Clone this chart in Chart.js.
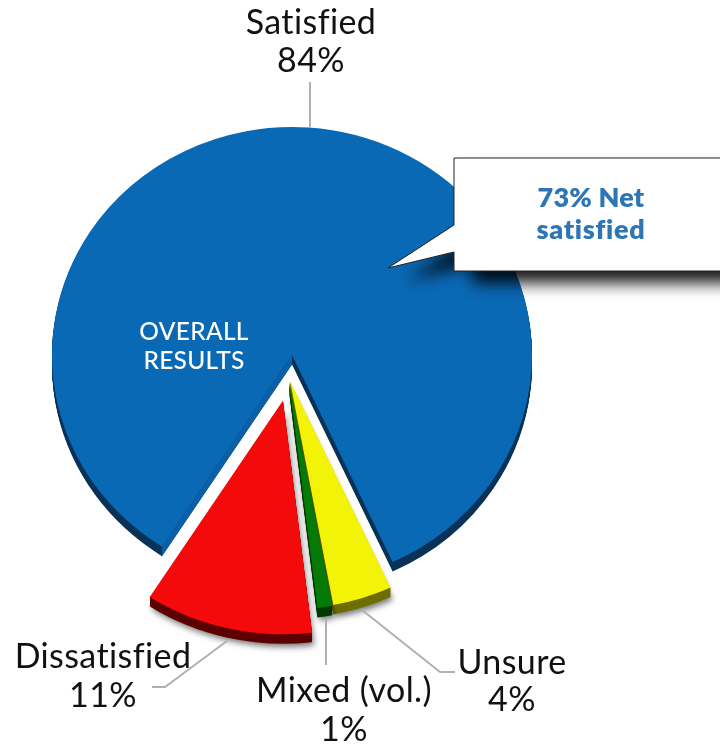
<!DOCTYPE html>
<html>
<head>
<meta charset="utf-8">
<style>
  html, body { margin: 0; padding: 0; background: #fff; }
  canvas { display: block; }
</style>
<script src="https://cdn.jsdelivr.net/npm/chart.js@4"></script>
</head>
<body>
<canvas id="pie" width="720" height="744"></canvas>
<script>
'use strict';

const categories = ['Satisfied', 'Unsure', 'Mixed (vol.)', 'Dissatisfied'];
const values = [84, 4, 1, 11];
const valueLabels = ['84%', '4%', '1%', '11%'];
const centerLabel = ['OVERALL', 'RESULTS'];
const calloutLabel = ['73% Net', 'satisfied'];

const topColors = ['#0a69b5', '#f3f308', '#067a06', '#f40a0a'];
const sideColors = ['#0a3358', '#6e6e00', '#003a00', '#5c0000'];
const explode = [[0, 0], [-2, 27], [-3, 28], [-9, 48]];
const radiusBump = [0, 0, 0, 6];
const labelPos = [[311, 34, 72], [512, 674, 711], [344, 702, 741], [103, 668, 707]];
const leaders = [
    [[310, 82], [310, 127]],
    [[362, 610], [440, 672], [455, 672]],
    [[326, 618], [326, 665]],
    [[152, 687], [165, 687], [227, 641]]
];

const TILT = 0.95;
const DEPTH = 10;

function tilt(ctx, chart) {
    const a = chart.chartArea;
    const cy = (a.top + a.bottom) / 2;
    ctx.translate(0, cy);
    ctx.scale(1, TILT);
    ctx.translate(0, -cy);
}

function wedge(ctx, arc, dy) {
    ctx.beginPath();
    ctx.moveTo(arc.x, arc.y + dy);
    ctx.arc(arc.x, arc.y + dy, arc.outerRadius, arc.startAngle, arc.endAngle);
    ctx.closePath();
    ctx.fill();
}

// moves the slices apart and puts the pie's side walls under them
const piePlugin = {
    id: 'pie3d',
    afterDatasetsUpdate(chart) {
        chart.getDatasetMeta(0).data.forEach((arc, i) => {
            arc.x += explode[i][0];
            arc.y += explode[i][1];
            arc.outerRadius += radiusBump[i];
        });
    },
    beforeDatasetsDraw(chart) {
        const ctx = chart.ctx;
        ctx.save();
        tilt(ctx, chart);
        chart.getDatasetMeta(0).data.forEach((arc, i) => {
            ctx.save();
            if (i > 0) {
                ctx.shadowColor = 'rgba(0,0,0,0.55)';
                ctx.shadowBlur = 6;
                ctx.shadowOffsetX = 2;
                ctx.shadowOffsetY = 3;
            }
            ctx.fillStyle = sideColors[i];
            wedge(ctx, arc, DEPTH);
            ctx.restore();
            ctx.fillStyle = sideColors[i];
            for (let d = DEPTH - 1; d > 0; d--) wedge(ctx, arc, d);
            if (i === 0) {
                // left wall of the big slice catches the light
                const ex = arc.x + Math.cos(arc.startAngle) * arc.outerRadius;
                const ey = arc.y + Math.sin(arc.startAngle) * arc.outerRadius;
                ctx.fillStyle = '#0a5fa6';
                ctx.beginPath();
                ctx.moveTo(arc.x, arc.y);
                ctx.lineTo(ex, ey);
                ctx.lineTo(ex, ey + DEPTH);
                ctx.lineTo(arc.x, arc.y + DEPTH);
                ctx.closePath();
                ctx.fill();
            }
        });
        ctx.restore();
        ctx.save();
        tilt(ctx, chart);
    },
    afterDatasetsDraw(chart) {
        chart.ctx.restore();
    },
    afterDraw(chart) {
        const ctx = chart.ctx;

        ctx.strokeStyle = '#b0b0b0';
        ctx.lineWidth = 2;
        leaders.forEach(line => {
            ctx.beginPath();
            line.forEach((p, i) => i ? ctx.lineTo(p[0], p[1]) : ctx.moveTo(p[0], p[1]));
            ctx.stroke();
        });

        // callout box
        ctx.save();
        ctx.shadowColor = 'rgba(0,0,0,0.9)';
        ctx.shadowBlur = 16;
        ctx.shadowOffsetX = 18;
        ctx.shadowOffsetY = 12;
        ctx.fillStyle = '#fff';
        ctx.beginPath();
        ctx.moveTo(454, 158);
        ctx.lineTo(724, 158);
        ctx.lineTo(724, 271);
        ctx.lineTo(454, 271);
        ctx.lineTo(454, 252);
        ctx.lineTo(388, 268);
        ctx.lineTo(454, 225);
        ctx.closePath();
        ctx.fill();
        ctx.restore();
        ctx.strokeStyle = '#222';
        ctx.lineWidth = 1;
        ctx.stroke();

        ctx.textAlign = 'center';
        ctx.textBaseline = 'alphabetic';
        // a hair of spacing also stops the fi ligature
        ctx.letterSpacing = '0.2px';

        ctx.fillStyle = '#2e75b6';
        ctx.font = '800 27px Lato';
        ctx.fillText(calloutLabel[0], 591, 207);
        ctx.letterSpacing = '0.7px';
        ctx.fillText(calloutLabel[1], 591, 239);

        ctx.letterSpacing = '0.3px';
        ctx.fillStyle = '#fff';
        ctx.font = '500 24.5px Lato';
        ctx.fillText(centerLabel[0], 194, 340);
        ctx.fillText(centerLabel[1], 194, 369);

        ctx.letterSpacing = '0.4px';
        ctx.fillStyle = '#111';
        ctx.font = '400 34px Lato';
        categories.forEach((name, i) => {
            ctx.fillText(name, labelPos[i][0], labelPos[i][1]);
            ctx.fillText(valueLabels[i], labelPos[i][0], labelPos[i][2]);
        });
    }
};

new Chart(document.getElementById('pie'), {
    type: 'pie',
    data: {
        labels: categories,
        datasets: [{
            data: values,
            backgroundColor: topColors,
            borderWidth: 0
        }]
    },
    options: {
        responsive: false,
        animation: false,
        rotation: 212.8,
        layout: { padding: { left: 52, right: 188, top: 115, bottom: 149 } },
        plugins: {
            legend: { display: false },
            tooltip: { enabled: false }
        }
    },
    plugins: [piePlugin]
});
</script>
</body>
</html>
